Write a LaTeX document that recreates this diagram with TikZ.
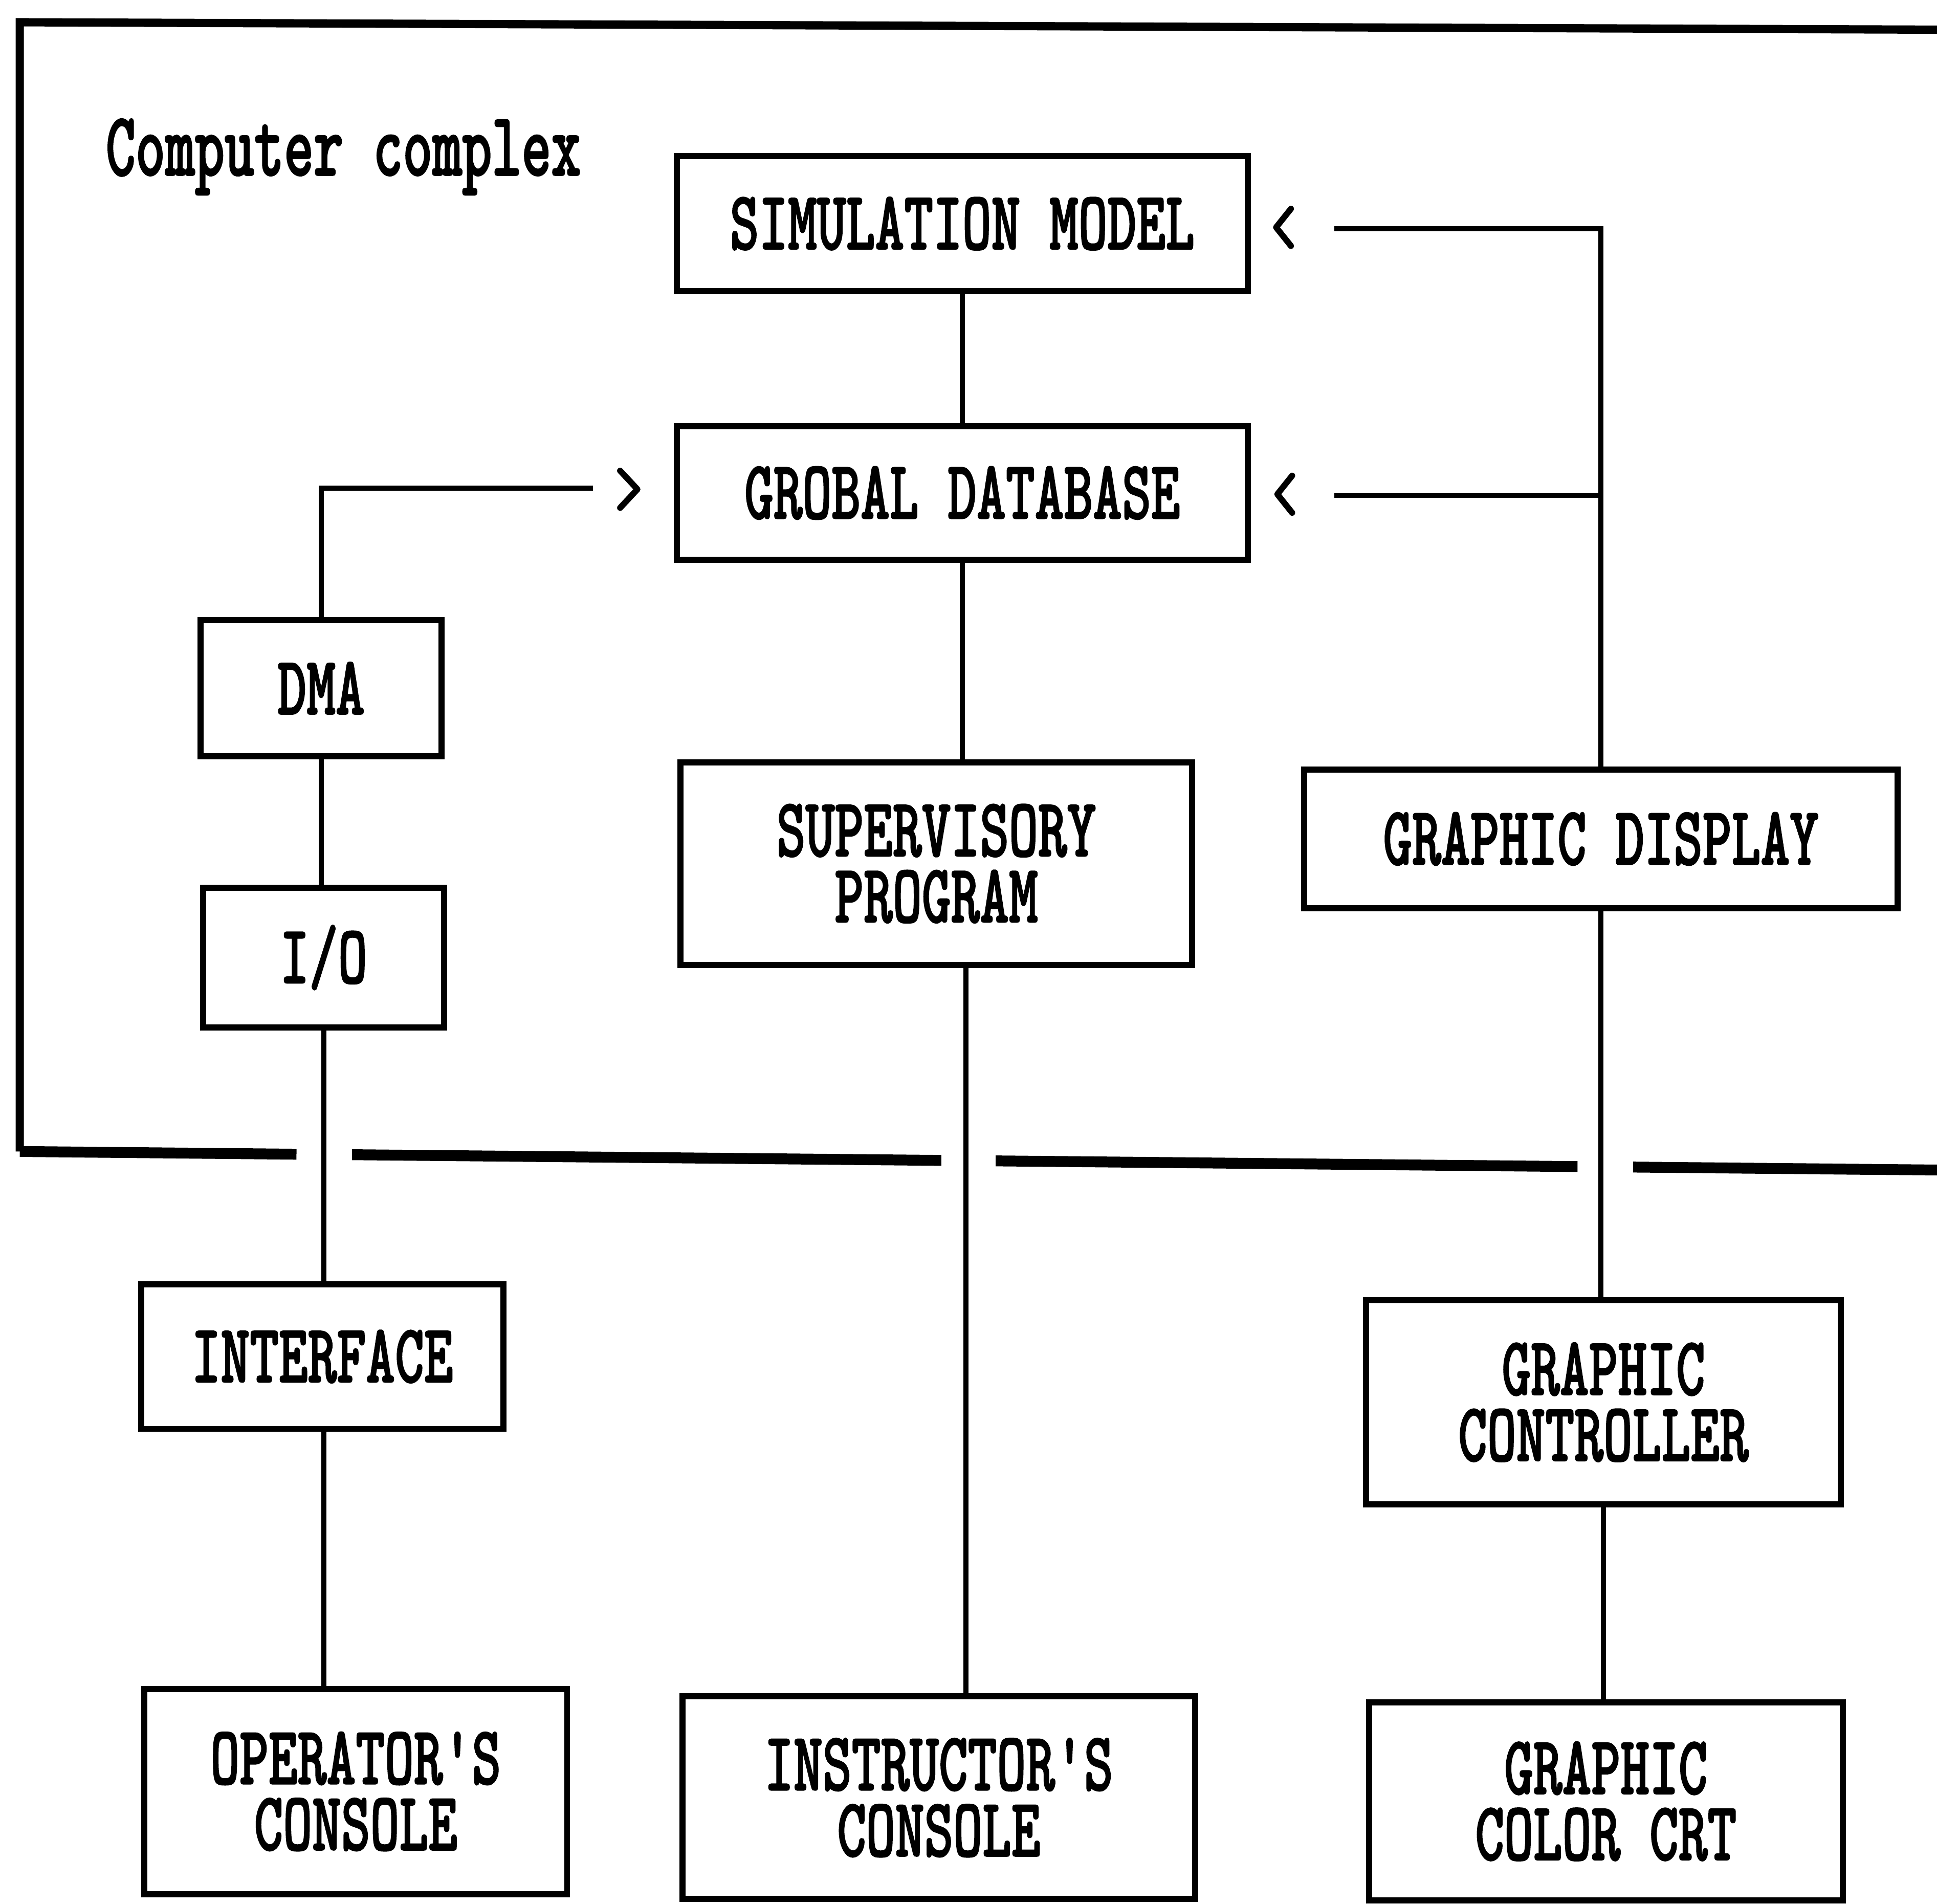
\documentclass[tikz,border=0pt]{standalone}
\usepackage{fontspec}
\newfontfamily\tw{lmmonolt10-bold.otf}[FakeStretch=0.66, FakeBold=1.2]
\newfontfamily\twt{lmmonolt10-bold.otf}[FakeStretch=0.62, FakeBold=1.2]
\usetikzlibrary{calc}
\begin{document}
\begin{tikzpicture}[x=0.01cm,y=-0.01cm,
  blk/.style={draw, line width=1.4pt, inner sep=0pt, align=center,
    font=\tw\fontsize{19.3}{15.2}\selectfont},
  wire/.style={line width=1.2pt},
  chev/.style={line width=1.4pt, line cap=round, line join=round},
  rim/.style={line width=1.9pt},
  cut/.style={line width=2.5pt},
  chevl/.pic={\draw[chev] (6,-15) -- (-6,0) -- (6,15);},
  chevr/.pic={\draw[chev] (-7,-15) -- (7,0) -- (-7,15);},
]
\useasboundingbox (0,0) rectangle (1568,1541);

% enclosure of the computer complex
\draw[rim] (1568,24) -- (16,18) -- (16,932);
\draw[cut] (16,932) -- (240,934.2);
\draw[cut] (285,934.6) -- (762,939.2);
\draw[cut] (806,939.6) -- (1277,944.2);
\draw[cut] (1322,944.6) -- (1568,947);
\node[anchor=base west, inner sep=0pt, font=\twt\fontsize{21}{21}\selectfont]
  (title) at (85,142) {Computer complex};

% blocks
\node[blk, minimum width=4.62cm, minimum height=1.09cm] (sim)   at (779,181)  {SIMULATION MODEL};
\node[blk, minimum width=4.62cm, minimum height=1.08cm] (gdb)   at (779,399)  {GROBAL DATABASE};
\node[blk, minimum width=1.95cm, minimum height=1.10cm] (dma)   at (260,557)  {DMA};
\node[blk, minimum width=1.95cm, minimum height=1.13cm] (io)    at (262,775)  {I/O};
\node[blk, minimum width=4.14cm, minimum height=1.64cm] (sup)   at (758,699)  {SUPERVISORY\\PROGRAM};
\node[blk, minimum width=4.80cm, minimum height=1.12cm] (gdisp) at (1296,679) {GRAPHIC DISPLAY};
\node[blk, minimum width=2.93cm, minimum height=1.17cm] (intf)  at (261,1098) {INTERFACE};
\node[blk, minimum width=3.84cm, minimum height=1.65cm] (gctl)  at (1298,1135) {GRAPHIC\\CONTROLLER};
\node[blk, minimum width=3.42cm, minimum height=1.66cm] (opc)   at (288,1450) {OPERATOR'S\\CONSOLE};
\node[blk, minimum width=4.15cm, minimum height=1.64cm] (insc)  at (760,1455) {INSTRUCTOR'S\\CONSOLE};
\node[blk, minimum width=3.83cm, minimum height=1.60cm] (crt)   at (1300,1458) {GRAPHIC\\COLOR CRT};

% routing points
\coordinate (spine) at (782,0);
\coordinate (gdbL)  at (480,395);
\coordinate (simR)  at (1080,185);
\coordinate (gdbR)  at (1080,401);

% connectors
\draw[wire] (sim.south) -- (gdb.north);
\draw[wire] (gdb.south) -- (sup.north -| gdb.south);
\draw[wire] (sup.south -| spine) -- (insc.north -| spine);
\draw[wire] (dma.north) |- (gdbL);
\draw[wire] (dma.south) -- (io.north -| dma.south);
\draw[wire] (io.south) -- (intf.north -| io.south);
\draw[wire] (intf.south -| io.south) -- (opc.north -| io.south);
\draw[wire] (gdisp.north) |- (simR);
\draw[wire] (gdisp.north |- gdbR) -- (gdbR);
\draw[wire] (gdisp.south) -- (gctl.north -| gdisp.south);
\draw[wire] (gctl.south) -- (crt.north -| gctl.south);

% arrowheads
\pic at (509,396) {chevr};
\pic at (1039,184) {chevl};
\pic at (1040,400) {chevl};
\end{tikzpicture}
\end{document}
